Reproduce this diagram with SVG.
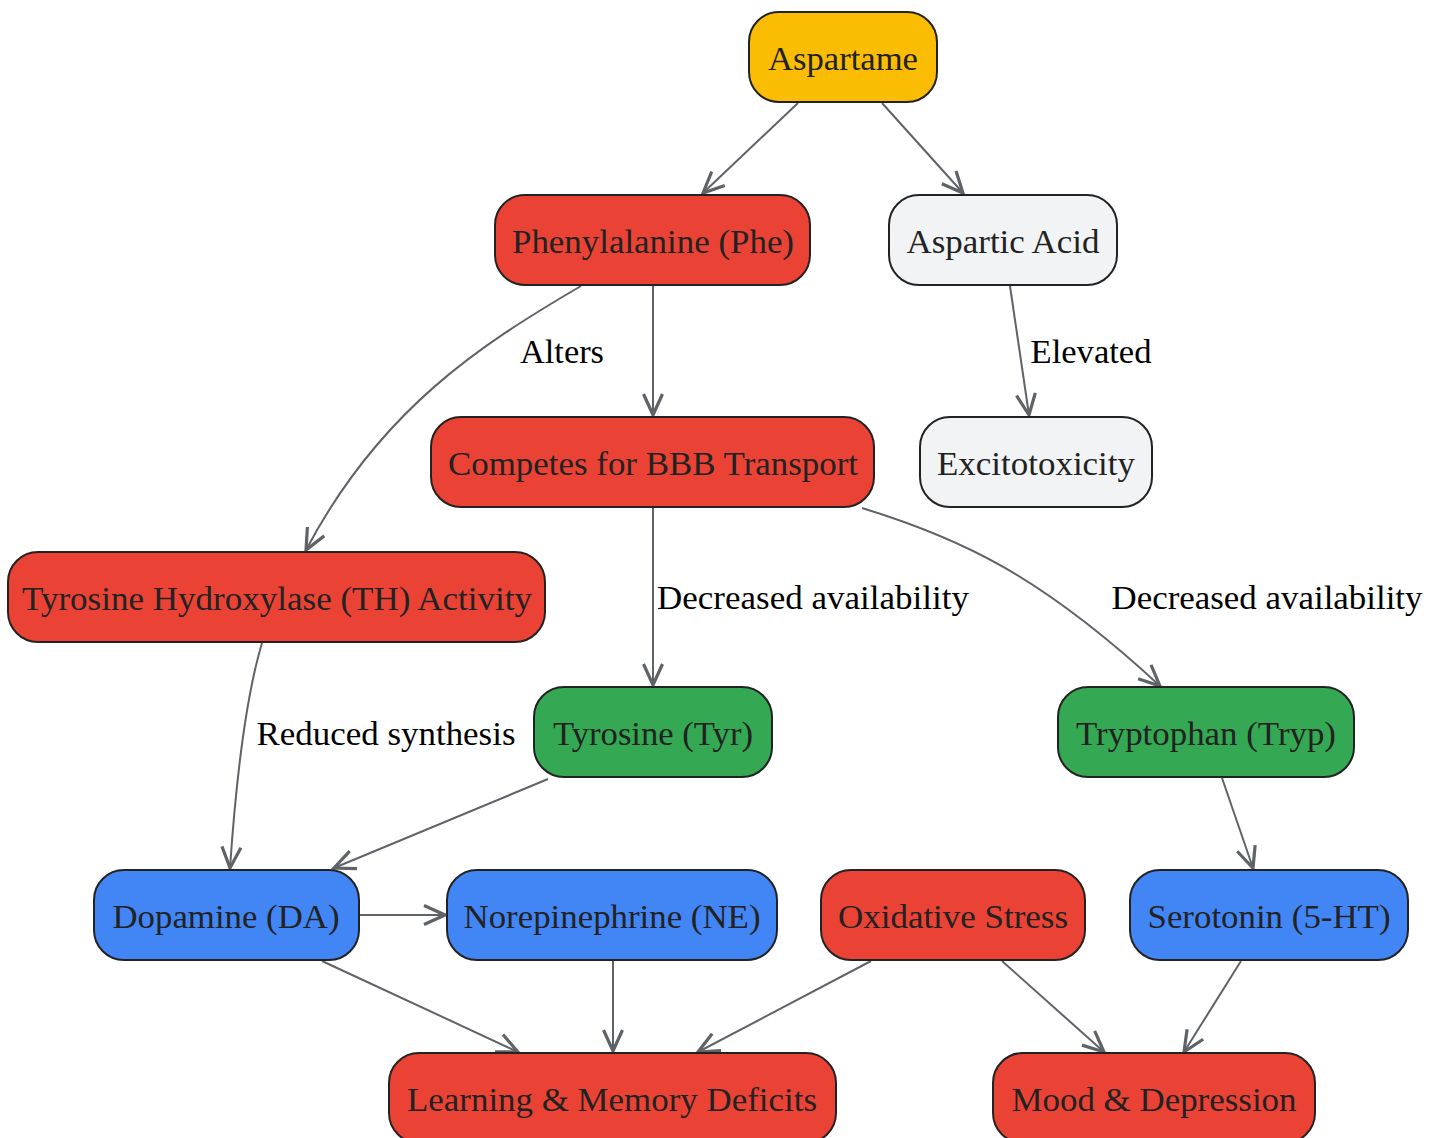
<svg xmlns="http://www.w3.org/2000/svg" width="1442" height="1138" viewBox="0 0 1442 1138">
<style>
.n rect{stroke:#222;stroke-width:2}
.n text{font-family:"Liberation Serif",serif;font-size:34px;fill:#222;text-anchor:middle}
.y{fill:#FBBC04}.r{fill:#EA4335}.g{fill:#F1F3F4}.gr{fill:#34A853}.b{fill:#4285F4}
.e path{fill:none;stroke:#5f6368;stroke-width:2;marker-end:url(#a)}
.l{font-family:"Liberation Serif",serif;font-size:34px;fill:#000;text-anchor:middle}
</style>
<defs>
<marker id="a" markerUnits="userSpaceOnUse" markerWidth="26" markerHeight="26" viewBox="0 0 26 26" refX="23" refY="13" orient="auto">
<path d="M2,3.5 L23,13 L2,22.5" fill="none" stroke="#5f6368" stroke-width="3.2"/>
</marker>
</defs>
<g id="edges" class="e">
<path d="M798,103 L703,193"/>
<path d="M882,103 L963,193"/>
<path d="M653,286 L653,415"/>
<path d="M581,286 C480,345 380,410 306,550"/>
<path d="M1010,286 L1029,415"/>
<path d="M653,508 L653,685"/>
<path d="M862,508 C960,538 1040,575 1160,686"/>
<path d="M262,643 C245,700 236,780 230,868"/>
<path d="M548,779 L334,868"/>
<path d="M1222,778 L1253,868"/>
<path d="M359,915 L445,915"/>
<path d="M322,961 L518,1052"/>
<path d="M613,961 L613,1051"/>
<path d="M871,961 L698,1052"/>
<path d="M1002,961 L1104,1052"/>
<path d="M1241,961 L1184,1052"/>
</g>
<g id="labels">
<text class="l" x="562" y="363" textLength="84" lengthAdjust="spacingAndGlyphs">Alters</text>
<text class="l" x="1091" y="363" textLength="121" lengthAdjust="spacingAndGlyphs">Elevated</text>
<text class="l" x="813" y="609" textLength="312" lengthAdjust="spacingAndGlyphs">Decreased availability</text>
<text class="l" x="1267" y="609" textLength="311" lengthAdjust="spacingAndGlyphs">Decreased availability</text>
<text class="l" x="386" y="745" textLength="259" lengthAdjust="spacingAndGlyphs">Reduced synthesis</text>
</g>
<g id="aspartame" class="n"><rect class="y" x="749" y="12" width="188" height="90" rx="30"/><text x="843" y="70" textLength="150" lengthAdjust="spacingAndGlyphs">Aspartame</text></g>
<g id="phe" class="n"><rect class="r" x="495" y="195" width="315" height="90" rx="30"/><text x="653" y="253" textLength="282" lengthAdjust="spacingAndGlyphs">Phenylalanine (Phe)</text></g>
<g id="aspartic" class="n"><rect class="g" x="889" y="195" width="228" height="90" rx="30"/><text x="1003" y="253" textLength="193" lengthAdjust="spacingAndGlyphs">Aspartic Acid</text></g>
<g id="bbb" class="n"><rect class="r" x="431" y="417" width="443" height="90" rx="30"/><text x="653" y="475" textLength="410" lengthAdjust="spacingAndGlyphs">Competes for BBB Transport</text></g>
<g id="excito" class="n"><rect class="g" x="920" y="417" width="232" height="90" rx="30"/><text x="1036" y="475" textLength="198" lengthAdjust="spacingAndGlyphs">Excitotoxicity</text></g>
<g id="th" class="n"><rect class="r" x="8" y="552" width="537" height="90" rx="30"/><text x="277" y="610" textLength="510" lengthAdjust="spacingAndGlyphs">Tyrosine Hydroxylase (TH) Activity</text></g>
<g id="tyr" class="n"><rect class="gr" x="534" y="687" width="238" height="90" rx="30"/><text x="653" y="745" textLength="200" lengthAdjust="spacingAndGlyphs">Tyrosine (Tyr)</text></g>
<g id="tryp" class="n"><rect class="gr" x="1058" y="687" width="296" height="90" rx="30"/><text x="1206" y="745" textLength="260" lengthAdjust="spacingAndGlyphs">Tryptophan (Tryp)</text></g>
<g id="da" class="n"><rect class="b" x="94" y="870" width="265" height="90" rx="30"/><text x="226" y="928" textLength="227" lengthAdjust="spacingAndGlyphs">Dopamine (DA)</text></g>
<g id="ne" class="n"><rect class="b" x="447" y="870" width="330" height="90" rx="30"/><text x="612" y="928" textLength="297" lengthAdjust="spacingAndGlyphs">Norepinephrine (NE)</text></g>
<g id="ox" class="n"><rect class="r" x="821" y="870" width="264" height="90" rx="30"/><text x="953" y="928" textLength="230" lengthAdjust="spacingAndGlyphs">Oxidative Stress</text></g>
<g id="ser" class="n"><rect class="b" x="1130" y="870" width="278" height="90" rx="30"/><text x="1269" y="928" textLength="243" lengthAdjust="spacingAndGlyphs">Serotonin (5-HT)</text></g>
<g id="learn" class="n"><rect class="r" x="389" y="1053" width="447" height="90" rx="30"/><text x="612" y="1111" textLength="410" lengthAdjust="spacingAndGlyphs">Learning &amp; Memory Deficits</text></g>
<g id="mood" class="n"><rect class="r" x="993" y="1053" width="322" height="90" rx="30"/><text x="1154" y="1111" textLength="285" lengthAdjust="spacingAndGlyphs">Mood &amp; Depression</text></g>
</svg>
